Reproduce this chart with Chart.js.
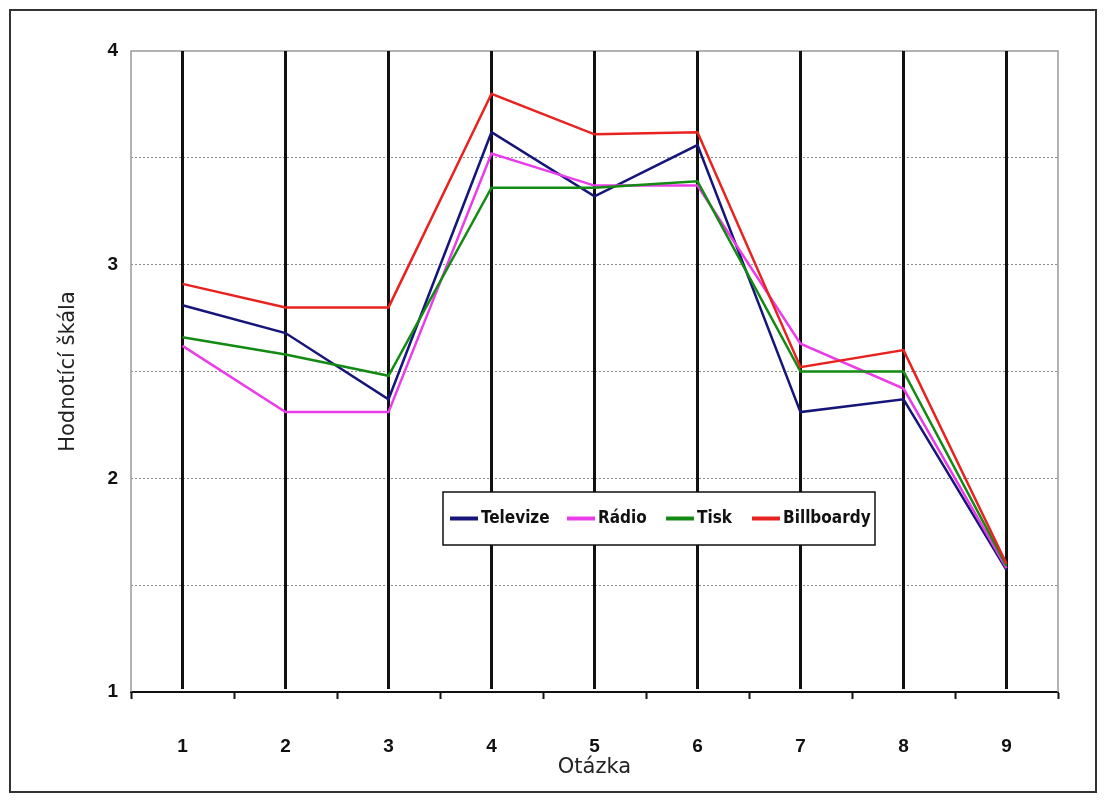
<!DOCTYPE html>
<html>
<head>
<meta charset="utf-8">
<script src="https://cdn.jsdelivr.net/npm/chart.js@4/dist/chart.umd.min.js"></script>
<style>
  html, body { margin:0; padding:0; background:#fff; }
  #wrap { position:relative; width:1106px; height:802px; }
</style>
</head>
<body>
<div id="wrap"><canvas id="c" width="1106" height="802"></canvas></div>
<script>
// values
const questions = ['1','2','3','4','5','6','7','8','9'];
const televize   = [2.81, 2.68, 2.37, 3.62, 3.32, 3.56, 2.31, 2.37, 1.57];
const radio      = [2.62, 2.31, 2.31, 3.52, 3.37, 3.37, 2.63, 2.42, 1.58];
const tisk       = [2.66, 2.58, 2.48, 3.36, 3.36, 3.39, 2.50, 2.50, 1.59];
const billboardy = [2.91, 2.80, 2.80, 3.80, 3.61, 3.62, 2.52, 2.60, 1.60];
const yTicks = [1, 2, 3, 4];

const TICK_FONT = { family:"'Liberation Sans', Arial, sans-serif", size:19, weight:'bold' };
const TITLE_FONT = { family:"'DejaVu Sans', sans-serif", size:21 };

function series(label, data, color, order) {
  return { label, data, borderColor:color, backgroundColor:color, borderWidth:2.5,
           pointRadius:0, tension:0, order };
}

// frame, vertical category lines, legend box, outer border
const framePlugin = {
  id:'frame',
  beforeDraw(chart) {
    const ctx = chart.ctx;
    ctx.save();
    ctx.fillStyle = '#fff';
    ctx.fillRect(0, 0, chart.width, chart.height);
    ctx.strokeStyle = '#333';
    ctx.lineWidth = 2;
    ctx.strokeRect(10, 10, 1086, 782);
    ctx.restore();
  },
  beforeDatasetsDraw(chart) {
    const {ctx, chartArea:a, scales:{x}} = chart;
    ctx.save();
    ctx.strokeStyle = '#999';
    ctx.lineWidth = 1.5;
    ctx.beginPath();
    ctx.moveTo(a.left, a.bottom); ctx.lineTo(a.left, a.top);
    ctx.lineTo(a.right, a.top); ctx.lineTo(a.right, a.bottom);
    ctx.stroke();
    ctx.strokeStyle = '#111';
    ctx.lineWidth = 3;
    questions.forEach((q, i) => {
      const px = x.getPixelForValue(i);
      ctx.beginPath();
      ctx.moveTo(px, a.top);
      ctx.lineTo(px, a.bottom - 3);
      ctx.stroke();
    });
    ctx.restore();
  },
  afterDraw(chart) {
    const ctx = chart.ctx;
    const bx = 443, by = 492, bw = 432, bh = 53;
    ctx.save();
    ctx.fillStyle = '#fff';
    ctx.fillRect(bx, by, bw, bh);
    ctx.strokeStyle = '#111';
    ctx.lineWidth = 1.5;
    ctx.strokeRect(bx, by, bw, bh);
    const starts = [450, 567, 666, 752];
    const legendOrder = [3, 2, 1, 0];
    ctx.font = "bold 17px 'Liberation Sans Narrow', 'DejaVu Sans Condensed', sans-serif";
    ctx.textBaseline = 'middle';
    legendOrder.forEach((di, k) => {
      const ds = chart.data.datasets[di];
      const sx = starts[k], cy = by + bh / 2;
      ctx.strokeStyle = ds.borderColor;
      ctx.lineWidth = 4;
      ctx.beginPath(); ctx.moveTo(sx, cy); ctx.lineTo(sx + 28, cy); ctx.stroke();
      ctx.fillStyle = '#111';
      ctx.fillText(ds.label, sx + 31, cy);
    });
    ctx.restore();
  }
};

new Chart(document.getElementById('c'), {
  type:'line',
  data:{
    labels:questions,
    datasets:[
      series('Billboardy', billboardy, '#e8231f', 0),
      series('Tisk', tisk, '#138a13', 1),
      series('Rádio', radio, '#ea3ce8', 2),
      series('Televize', televize, '#16167a', 3)
    ]
  },
  options:{
    responsive:false,
    animation:false,
    layout:{ padding:{ top:51, right:48, bottom:0, left:0 } },
    plugins:{ legend:{ display:false }, tooltip:{ enabled:false } },
    scales:{
      x:{
        offset:true,
        afterFit: s => { s.height = 110; },
        grid:{ offset:true, drawOnChartArea:false, tickLength:7, tickColor:'#111', tickWidth:2 },
        border:{ display:true, color:'#111', width:2 },
        ticks:{ color:'#111', font:TICK_FONT, padding:36, maxRotation:0 },
        title:{ display:true, text:'Otázka', color:'#222', font:TITLE_FONT, padding:{ top:0, bottom:22 } }
      },
      y:{
        min:1, max:4,
        afterFit: s => { s.width = 131; },
        afterBuildTicks: s => { s.ticks = [1, 1.5, 2, 2.5, 3, 3.5, 4].map(v => ({ value:v })); },
        grid:{
          drawTicks:false, lineWidth:1,
          color: c => (c.tick && (c.tick.value === 1 || c.tick.value === 4)) ? 'rgba(0,0,0,0)' : '#8a8a8a'
        },
        border:{ display:false, dash:[2,2] },
        ticks:{
          color:'#111', font:TICK_FONT, padding:13, autoSkip:false,
          callback: v => yTicks.includes(v) ? String(v) : ''
        },
        title:{ display:true, text:'Hodnotící škála', color:'#222', font:TITLE_FONT, padding:{ top:56, bottom:0 } }
      }
    }
  },
  plugins:[framePlugin]
});
</script>
</body>
</html>
